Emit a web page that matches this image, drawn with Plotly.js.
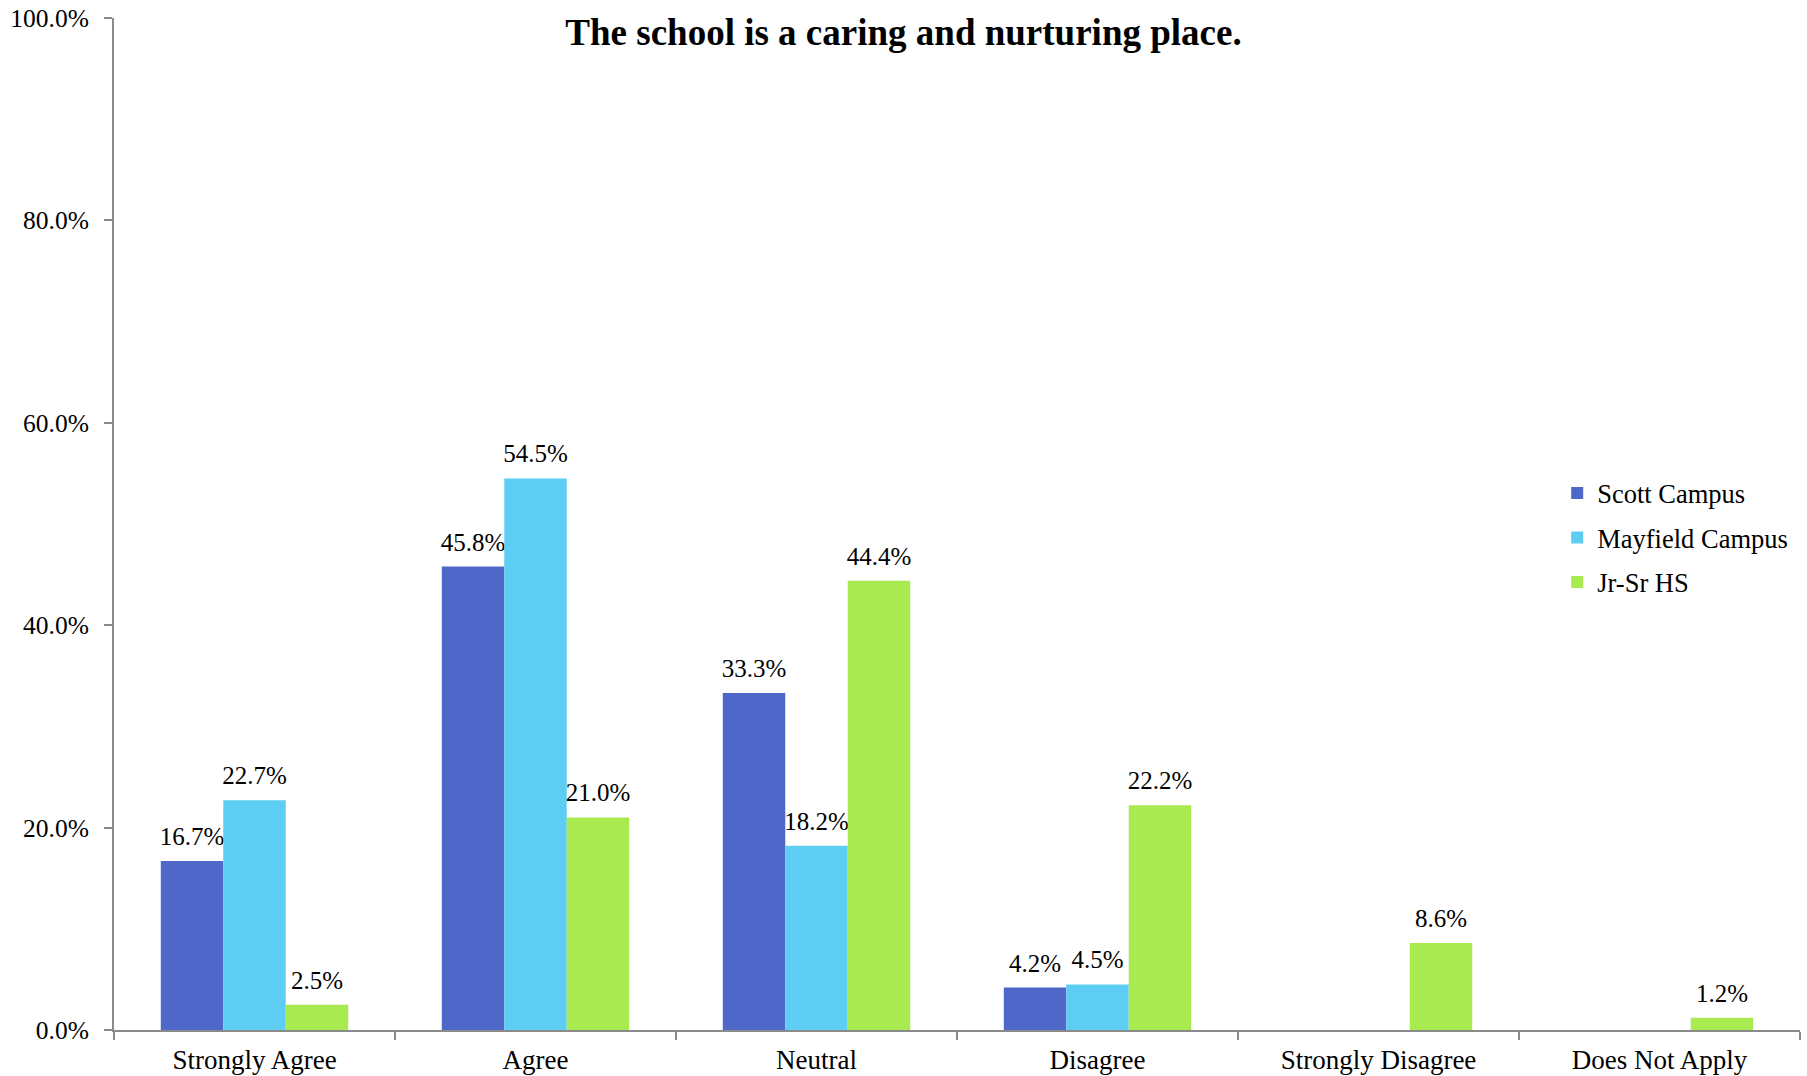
<!DOCTYPE html>
<html>
<head>
<meta charset="utf-8">
<script src="https://cdn.plot.ly/plotly-3.0.1.min.js"></script>
<style>html,body{margin:0;padding:0;background:#fff;}#chart{width:1807px;height:1076px;}</style>
</head>
<body>
<div id="chart"></div>
<script>
const categories = ["Strongly Agree", "Agree", "Neutral", "Disagree", "Strongly Disagree", "Does Not Apply"];
const scottCampus = [16.7, 45.8, 33.3, 4.2, null, null];
const mayfieldCampus = [22.7, 54.5, 18.2, 4.5, null, null];
const jrSrHS = [2.5, 21.0, 44.4, 22.2, 8.6, 1.2];
const seriesNames = ["Scott Campus", "Mayfield Campus", "Jr-Sr HS"];
const seriesColors = ["#4F67C8", "#5ECDF3", "#A9EA51"];
const yTicks = [0, 20, 40, 60, 80, 100];

const FONT = "'Liberation Serif', 'Times New Roman', serif";
const series = [scottCampus, mayfieldCampus, jrSrHS];
const traces = series.map((vals, i) => ({
  type: "bar",
  name: seriesNames[i],
  x: categories,
  y: vals,
  legendgroup: "g" + i,
  marker: {color: seriesColors[i], line: {width: 0}},
  texttemplate: "%{y:.1f}%",
  textposition: "outside",
  constraintext: "none",
  cliponaxis: false,
  textfont: {family: FONT, size: 25, color: "#000"},
  hoverinfo: "skip"
}));

const layout = {
  width: 1807, height: 1076,
  margin: {l: 114, r: 7, t: 18, b: 46, pad: 0},
  paper_bgcolor: "#fff", plot_bgcolor: "#fff",
  font: {family: FONT, size: 25, color: "#000"},
  title: {
    text: "<b>The school is a caring and nurturing place.</b>",
    font: {family: FONT, size: 37, color: "#000"},
    x: 0.5, xref: "container", y: 0.97, yref: "container", yanchor: "middle", xanchor: "center"
  },
  barmode: "group",
  bargap: 0.333,
  bargroupgap: 0,
  showlegend: true,
  legend: {
    x: 0.856, xanchor: "left", y: 0.554, yanchor: "top",
    font: {family: FONT, size: 26.5, color: "#000"},
    traceorder: "grouped", tracegroupgap: 7,
    bgcolor: "rgba(0,0,0,0)", borderwidth: 0
  },
  xaxis: {
    type: "category",
    tickson: "boundaries",
    ticks: "outside", ticklen: 8, tickwidth: 2, tickcolor: "#8a8a8a",
    showline: true, linecolor: "#8a8a8a", linewidth: 2,
    showgrid: false, zeroline: false,
    tickfont: {family: FONT, size: 27, color: "#000"},
    ticklabelstandoff: 5
  },
  yaxis: {
    range: [0, 100],
    tickvals: yTicks,
    ticktext: yTicks.map(v => v.toFixed(1) + "%"),
    ticks: "outside", ticklen: 8, tickwidth: 2, tickcolor: "#8a8a8a",
    showline: true, linecolor: "#8a8a8a", linewidth: 2,
    showgrid: false, zeroline: false,
    tickfont: {family: FONT, size: 25.5, color: "#000"},
    ticklabelstandoff: 10
  }
};

Plotly.newPlot("chart", traces, layout, {displayModeBar: false, staticPlot: true}).then(() => {
  // lift value labels a little higher above the bars, as in the reference
  document.querySelectorAll("#chart .bartext").forEach(t => {
    t.setAttribute("transform", "translate(0,-8) " + (t.getAttribute("transform") || ""));
  });
});
</script>
</body>
</html>
